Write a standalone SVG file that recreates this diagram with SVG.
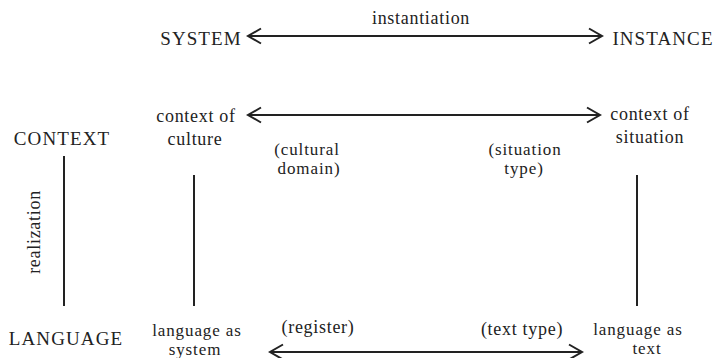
<svg xmlns="http://www.w3.org/2000/svg" width="719" height="358" viewBox="0 0 719 358">
  <style>
    .cap { font-size: 19px; letter-spacing: 1.1px; }
    .lc { font-size: 18px; letter-spacing: 0.7px; }
    .sm { font-size: 17px; letter-spacing: 0.9px; }
    .ln { stroke: #222; stroke-width: 2; fill: none; }
  </style>
  <defs>
    <marker id="chev" viewBox="-15 -9 17 18" markerWidth="17" markerHeight="18" refX="0" refY="0" orient="auto-start-reverse" markerUnits="userSpaceOnUse">
      <path d="M -13 -7.5 L 0 0 L -13 7.5" fill="none" stroke="#222" stroke-width="2"/>
    </marker>
  </defs>
  <rect width="719" height="358" fill="#fff"/>

  <g id="connectors">
    <line class="ln" x1="248" y1="36" x2="602" y2="36" marker-start="url(#chev)" marker-end="url(#chev)"/>
    <line class="ln" x1="248" y1="115" x2="600" y2="115" marker-start="url(#chev)" marker-end="url(#chev)"/>
    <line class="ln" x1="270" y1="352" x2="582" y2="352" marker-start="url(#chev)" marker-end="url(#chev)"/>
    <line class="ln" x1="64" y1="156" x2="64" y2="306"/>
    <line class="ln" x1="194" y1="175" x2="194" y2="306"/>
    <line class="ln" x1="637" y1="175" x2="637" y2="306"/>
  </g>

  <g font-family="Liberation Serif, Times New Roman, serif" fill="#222">
  <g id="label-instantiation"><text class="lc" x="421" y="24" text-anchor="middle">instantiation</text></g>
  <g id="label-realization"><text class="lc" transform="translate(40 232) rotate(-90)" text-anchor="middle">realization</text></g>

  <g id="node-system"><text class="cap" x="201" y="45" text-anchor="middle">SYSTEM</text></g>
  <g id="node-instance"><text class="cap" x="663" y="45" text-anchor="middle">INSTANCE</text></g>

  <g id="node-context"><text class="cap" x="62" y="145" text-anchor="middle">CONTEXT</text></g>
  <g id="node-context-of-culture">
    <text class="lc" x="196" y="122" text-anchor="middle">context of</text>
    <text class="lc" x="195" y="145" text-anchor="middle">culture</text>
  </g>
  <g id="node-cultural-domain">
    <text class="sm" x="307" y="155" text-anchor="middle">(cultural</text>
    <text class="sm" x="309" y="174" text-anchor="middle">domain)</text>
  </g>
  <g id="node-situation-type">
    <text class="sm" x="525" y="155" text-anchor="middle">(situation</text>
    <text class="sm" x="524" y="174" text-anchor="middle">type)</text>
  </g>
  <g id="node-context-of-situation">
    <text class="lc" x="650" y="120" text-anchor="middle">context of</text>
    <text class="lc" x="650" y="143" text-anchor="middle">situation</text>
  </g>

  <g id="node-language"><text class="cap" x="66" y="345" text-anchor="middle">LANGUAGE</text></g>
  <g id="node-language-as-system">
    <text class="sm" x="197" y="336" text-anchor="middle">language as</text>
    <text class="sm" x="195" y="355" text-anchor="middle">system</text>
  </g>
  <g id="node-register"><text class="lc" x="318" y="333" text-anchor="middle">(register)</text></g>
  <g id="node-text-type"><text class="lc" x="522" y="335" text-anchor="middle">(text type)</text></g>
  <g id="node-language-as-text">
    <text class="sm" x="638" y="335" text-anchor="middle">language as</text>
    <text class="sm" x="647" y="354" text-anchor="middle">text</text>
  </g>
  </g>
</svg>
